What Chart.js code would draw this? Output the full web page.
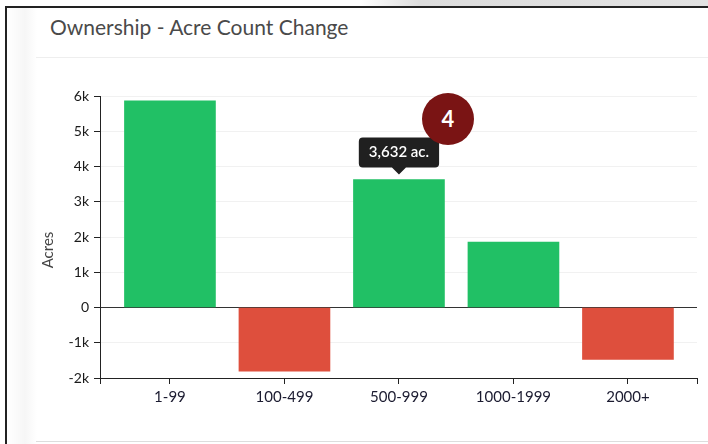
<!DOCTYPE html>
<html>
<head>
<meta charset="utf-8">
<script src="https://cdn.jsdelivr.net/npm/chart.js@4/dist/chart.umd.min.js"></script>
<style>
  body { margin: 0; background: #fff; font-family: Lato, sans-serif; }
  #wrap { position: relative; width: 708px; height: 444px; overflow: hidden; background: #fff; }
  #shadow { position: absolute; left: 360px; top: 0; width: 348px; height: 7px;
            background: linear-gradient(to right, rgba(220,220,220,0), #dcdcdc 60px, #e2e2e2); }
  #frame { position: absolute; left: 5px; top: 6px; right: -2px; bottom: -2px;
           border-left: 2px solid #222; border-top: 2px solid #222; }
  #side { position: absolute; left: 7px; top: 8px; width: 30px; bottom: 0;
          background: linear-gradient(to right, #fff, #f6f6f6 60%, #fff); }
  #title { position: absolute; left: 50px; top: 14px; font-size: 21px; color: #4a4a4a; }
  #sep { position: absolute; left: 36px; right: 0; top: 57px; height: 1px; background: #eeeeee; }
  #bottom { position: absolute; left: 36px; right: 0; top: 441px; height: 1px; background: #dddddd; }
  #chart { position: absolute; left: 0; top: 0; }
  #badge { position: absolute; left: 422px; top: 93px; width: 52px; height: 52px; border-radius: 50%;
           background: #7a1414; color: #fff; font: bold 22px Lato, sans-serif;
           text-align: center; line-height: 52px; }
</style>
</head>
<body>
<div id="wrap">
  <div id="shadow"></div>
  <div id="frame"></div>
  <div id="side"></div>
  <div id="title">Ownership - Acre Count Change</div>
  <div id="sep"></div>
  <div id="bottom"></div>
  <canvas id="chart" width="708" height="444"></canvas>
  <div id="badge">4</div>
</div>
<script>
// categories and values (acres)
var categories = ['1-99', '100-499', '500-999', '1000-1999', '2000+']
var acreChange = [5860, -1805, 3632, 1855, -1475]
var yTicks = [-2000, -1000, 0, 1000, 2000, 3000, 4000, 5000, 6000]
var activeIndex = 2

var green = '#21c065'
var red = '#de4f3d'

function kLabel(v) {
    if (v == 0) return '0'
    return (v / 1000) + 'k'
}

var points = acreChange.map((v, i) => ({ x: i, y: v }))
var colors = acreChange.map(v => v >= 0 ? green : red)

// y axis title, placed a bit below center like the original
var axisTitle = {
    id: 'axisTitle',
    afterDraw(chart) {
        var c = chart.ctx
        c.save()
        c.translate(48, 250)
        c.rotate(-Math.PI / 2)
        c.font = '15px Lato'
        c.fillStyle = '#444'
        c.textAlign = 'center'
        c.textBaseline = 'middle'
        c.fillText('Acres', 0, 0)
        c.restore()
    }
}

const ctx = document.getElementById('chart')
var chart = new Chart(ctx, {
    type: 'bar',
    data: {
        datasets: [{
            data: points,
            backgroundColor: colors,
            hoverBackgroundColor: colors,
            borderWidth: 0,
            barThickness: 91
        }]
    },
    options: {
        responsive: false,
        animation: false,
        layout: { padding: { top: 96, right: 11, left: 0, bottom: 0 } },
        plugins: {
            legend: { display: false },
            tooltip: {
                enabled: true,
                yAlign: 'bottom',
                xAlign: 'center',
                backgroundColor: 'rgba(20,20,20,0.95)',
                bodyColor: '#fff',
                bodyFont: { family: 'Lato', size: 15, weight: '600' },
                padding: { x: 10, y: 6 },
                caretSize: 7,
                caretPadding: 5,
                cornerRadius: 4,
                displayColors: false,
                callbacks: {
                    title: () => '',
                    label: item => item.parsed.y.toLocaleString('en-US') + ' ac.'
                }
            }
        },
        scales: {
            x: {
                type: 'linear',
                min: -0.611,
                max: 4.603,
                offset: false,
                afterFit: s => { s.height = 66 },
                afterBuildTicks: s => {
                    s.ticks = [s.min].concat(categories.map((c, i) => i), [s.max]).map(v => ({ value: v }))
                },
                grid: { offset: false, drawOnChartArea: false, drawTicks: true, tickLength: 6, tickColor: '#222' },
                border: { color: '#222', width: 1 },
                ticks: {
                    autoSkip: false,
                    maxRotation: 0,
                    padding: 4,
                    color: '#1b1b30',
                    font: { family: 'Lato', size: 15 },
                    callback: v => categories[v] || ''
                }
            },
            y: {
                min: -2000,
                max: 6000,
                afterFit: s => { s.width = 100 },
                afterBuildTicks: s => { s.ticks = yTicks.map(v => ({ value: v })) },
                grid: {
                    color: c => c.tick && c.tick.value == 0 ? '#333' : '#f1f1f1',
                    tickColor: '#222',
                    tickLength: 6
                },
                border: { color: '#222', width: 1 },
                ticks: {
                    padding: 5,
                    color: '#1a1a1a',
                    font: { family: 'Lato', size: 14 },
                    callback: v => kLabel(v)
                }
            }
        }
    },
    plugins: [axisTitle]
})

// show the tooltip on the 500-999 bar like the screenshot
var bar = chart.getDatasetMeta(0).data[activeIndex]
chart.setActiveElements([{ datasetIndex: 0, index: activeIndex }])
chart.tooltip.setActiveElements([{ datasetIndex: 0, index: activeIndex }], { x: bar.x, y: bar.y })
chart.update()
</script>
</body>
</html>
